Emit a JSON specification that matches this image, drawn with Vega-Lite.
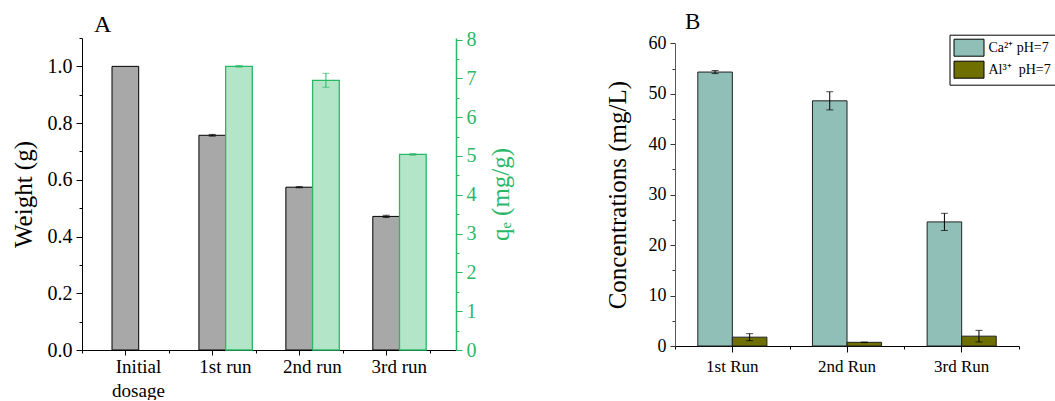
{
  "$schema": "https://vega.github.io/schema/vega-lite/v6.json",
  "background": "white",
  "padding": {"left": 11, "top": 11, "right": 0, "bottom": 0},
  "config": {
    "view": {"stroke": null},
    "font": "Liberation Serif",
    "axis": {
      "labelFont": "Liberation Serif",
      "titleFont": "Liberation Serif",
      "labelColor": "black",
      "titleColor": "black",
      "domainColor": "black",
      "tickColor": "black",
      "grid": false,
      "titleFontWeight": "normal",
      "labelFontSize": 18,
      "titleFontSize": 25
    },
    "concat": {"spacing": 92}
  },
  "resolve": {"scale": {"xOffset": "independent"}, "legend": {"fill": "independent"}},
  "hconcat": [
    {
      "title": {"text": "A", "frame": "group", "dx": 12, "offset": -7, "fontSize": 24, "font": "Liberation Serif", "fontWeight": "normal", "anchor": "start", "color": "black"},
      "width": 374,
      "height": 312,
      "layer": [
        {
          "data": {"values": [
            {"run": "Initial dosage", "series": "Weight", "value": 1.0, "err": null},
            {"run": "1st run", "series": "Weight", "value": 0.757, "err": 0.003},
            {"run": "2nd run", "series": "Weight", "value": 0.574, "err": 0.002},
            {"run": "3rd run", "series": "Weight", "value": 0.471, "err": 0.004}
          ]},
          "encoding": {
            "x": {
              "field": "run", "type": "nominal",
              "scale": {"domain": ["Initial dosage", "1st run", "2nd run", "3rd run"], "paddingInner": 0, "paddingOuter": 0.151, "align": 0},
              "axis": {
                "title": null, "labelAngle": 0, "labelOffset": 13, "tickSize": 5, "labelPadding": 2,
                "labelFontSize": 19, "labelLineHeight": 24,
                "labelExpr": "datum.value == 'Initial dosage' ? ['Initial', 'dosage'] : datum.value"
              }
            },
            "xOffset": {"field": "series", "type": "nominal", "scale": {"domain": ["Weight", "qe"], "range": [30, 83.4], "paddingInner": 0, "paddingOuter": 0}},
            "y": {
              "field": "value", "type": "quantitative",
              "scale": {"domain": [0, 1.1], "nice": false},
              "axis": {
                "title": "Weight (g)", "titlePadding": 11, "labelFontSize": 20, "labelPadding": 4,
                "values": [0, 0.1, 0.2, 0.3, 0.4, 0.5, 0.6, 0.7, 0.8, 0.9, 1.0, 1.1],
                "labelExpr": "round(datum.value * 10) % 2 == 1 ? '' : format(datum.value, '.1f')",
                "tickSize": {"condition": {"test": "round(datum.value * 10) % 2 == 1", "value": 3}, "value": 6}
              }
            }
          },
          "layer": [
            {"mark": {"type": "bar", "fill": "#a8a8a8", "stroke": "black", "strokeWidth": 1}},
            {
              "transform": [{"filter": "datum.err != null"}],
              "mark": {"type": "errorbar", "color": "black", "ticks": {"size": 7}},
              "encoding": {"yError": {"field": "err"}}
            }
          ]
        },
        {
          "data": {"values": [
            {"run": "1st run", "series": "qe", "value": 7.31, "err": 0.02},
            {"run": "2nd run", "series": "qe", "value": 6.95, "err": 0.18},
            {"run": "3rd run", "series": "qe", "value": 5.04, "err": 0.02}
          ]},
          "encoding": {
            "x": {
              "field": "run", "type": "nominal",
              "axis": {"title": null, "orient": "bottom", "labels": false, "domain": false, "tickBand": "extent", "tickSize": 3}
            },
            "xOffset": {"field": "series", "type": "nominal"},
            "y": {
              "field": "value", "type": "quantitative",
              "scale": {"domain": [0, 8.04], "nice": false},
              "axis": {
                "orient": "right", "title": "qₑ (mg/g)", "titleAngle": -90, "titleBaseline": "top", "titlePadding": 12,
                "titleColor": "#2bb866", "labelColor": "#2bb866", "domainColor": "#2bb866", "tickColor": "#2bb866",
                "domainWidth": 1.5, "labelFontSize": 20, "labelPadding": 4,
                "values": [0, 0.5, 1, 1.5, 2, 2.5, 3, 3.5, 4, 4.5, 5, 5.5, 6, 6.5, 7, 7.5, 8],
                "labelExpr": "datum.value % 1 == 0 ? format(datum.value, 'd') : ''",
                "tickSize": {"condition": {"test": "datum.value % 1 != 0", "value": 3}, "value": 6}
              }
            }
          },
          "layer": [
            {"mark": {"type": "bar", "fill": "#b3e5c8", "stroke": "#2bb866", "strokeWidth": 1.3}},
            {
              "mark": {"type": "errorbar", "color": "#2bb866", "ticks": {"size": 7}},
              "encoding": {"yError": {"field": "err"}}
            }
          ]
        }
      ],
      "resolve": {"scale": {"y": "independent"}, "axis": {"x": "independent"}}
    },
    {
      "title": {"text": "B", "frame": "group", "dx": 10, "offset": 0, "fontSize": 23, "font": "Liberation Serif", "fontWeight": "normal", "anchor": "start", "color": "black"},
      "width": 344,
      "height": 308,
      "data": {"values": [
        {"run": "1st Run", "ion": "Ca²⁺ pH=7", "value": 54.3, "err": 0.3},
        {"run": "2nd Run", "ion": "Ca²⁺ pH=7", "value": 48.6, "err": 1.8},
        {"run": "3rd Run", "ion": "Ca²⁺ pH=7", "value": 24.6, "err": 1.7},
        {"run": "1st Run", "ion": "Al³⁺\u00a0 pH=7", "value": 1.75, "err": 0.7},
        {"run": "2nd Run", "ion": "Al³⁺\u00a0 pH=7", "value": 0.73, "err": 0.05},
        {"run": "3rd Run", "ion": "Al³⁺\u00a0 pH=7", "value": 1.95, "err": 1.15}
      ]},
      "encoding": {
        "xOffset": {"field": "ion", "type": "nominal", "scale": {"domain": ["Ca²⁺ pH=7", "Al³⁺\u00a0 pH=7"], "range": [22.8, 91.9], "paddingInner": 0, "paddingOuter": 0}},
        "y": {
          "field": "value", "type": "quantitative",
          "scale": {"domain": [0, 60], "nice": false, "range": [308, 5.3]},
          "axis": {
            "title": "Concentrations (mg/L)", "titlePadding": 18, "labelPadding": 4, "domainColor": "#5a5a5a", "tickColor": "#333333",
            "values": [0, 5, 10, 15, 20, 25, 30, 35, 40, 45, 50, 55, 60],
            "labelExpr": "datum.value % 10 == 0 ? format(datum.value, 'd') : ''",
            "tickSize": {"condition": {"test": "datum.value % 10 != 0", "value": 3}, "value": 5}
          }
        }
      },
      "layer": [
        {
          "mark": {"type": "bar", "stroke": "#222222", "strokeWidth": 1},
          "encoding": {
            "x": {
              "field": "run", "type": "nominal", "sort": null,
              "scale": {"paddingInner": 0, "paddingOuter": 0},
              "axis": {"title": null, "labelAngle": 0, "tickSize": 6, "labelPadding": 6, "labelFontSize": 17}
            },
            "fill": {
              "field": "ion", "type": "nominal",
              "scale": {"domain": ["Ca²⁺ pH=7", "Al³⁺\u00a0 pH=7"], "range": ["#8fbfb7", "#6f6f00"]},
              "legend": {
                "title": null, "orient": "none", "legendX": 274.5, "legendY": -3.3,
                "strokeColor": "black", "fillColor": "white", "padding": 4, "rowPadding": 0,
                "symbolType": "M-1,-1H2.53V1H-1Z", "symbolSize": 289,
                "symbolStrokeColor": "black", "symbolStrokeWidth": 1, "symbolOpacity": 1,
                "labelFont": "Liberation Serif", "labelFontSize": 14, "labelColor": "black", "labelOffset": 17
              }
            }
          }
        },
        {
          "mark": {"type": "errorbar", "color": "black", "ticks": {"size": 7}},
          "encoding": {
            "x": {
              "field": "run", "type": "nominal", "sort": null,
              "axis": {"title": null, "orient": "bottom", "labels": false, "domain": false, "tickBand": "extent", "tickSize": 3}
            },
            "yError": {"field": "err"}
          }
        }
      ],
      "resolve": {"axis": {"x": "independent"}}
    }
  ]
}
